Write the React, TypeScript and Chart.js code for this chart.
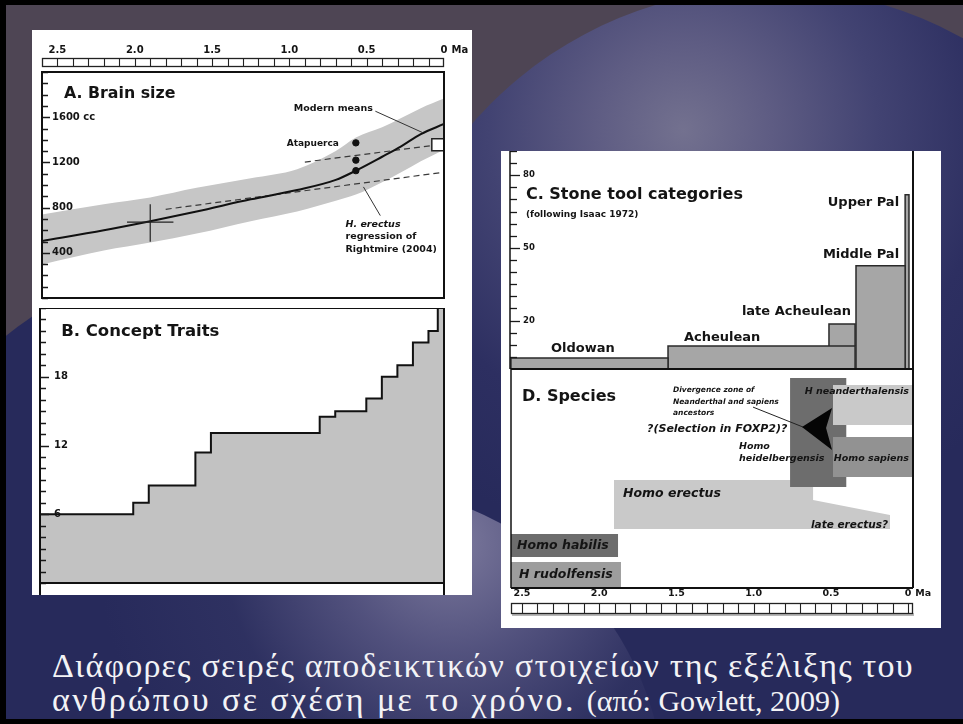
import React, { useEffect, useRef } from 'react';
import { Chart, registerables } from 'chart.js';

Chart.register(...registerables);

// ---------------- shared time axis ----------------
const maTickAges = [2.5, 2.0, 1.5, 1.0, 0.5, 0];
const maTickLabels = ['2.5', '2.0', '1.5', '1.0', '0.5', '0'];
const maUnit = 'Ma';
const scaleBarAges = [2.6, 2.5, 2.4, 2.3, 2.2, 2.1, 2.0, 1.9, 1.8, 1.7, 1.6, 1.5, 1.4, 1.3, 1.2, 1.1, 1.0, 0.9, 0.8, 0.7, 0.6, 0.5, 0.4, 0.3, 0.2, 0.1, 0];

// ---------------- A. Brain size ----------------
const brainAges = [2.6, 2.2, 1.9, 1.6, 1.25, 0.95, 0.7, 0.57, 0.4, 0.28, 0.15, 0];
const brainMean = [505, 600, 680, 765, 873, 955, 1045, 1127, 1250, 1340, 1450, 1540];
const brainUpper = [740, 830, 890, 975, 1060, 1140, 1300, 1420, 1510, 1590, 1680, 1765];
const brainLower = [297, 420, 491, 570, 680, 765, 860, 915, 1025, 1110, 1210, 1313];
const brainTickValues = [0, 100, 200, 300, 400, 500, 600, 700, 800, 900, 1000, 1100, 1200, 1300, 1400, 1500, 1600, 1700, 1800, 1900, 2000];
const brainLabelValues = [400, 800, 1200, 1600];
const brainLabelTexts = ['400', '800', '1200', '1600 cc'];
const erectusRegAges = [1.8, 0.02];
const erectusRegCc = [785, 1110];
const upperRegAges = [0.9, 0.04];
const upperRegCc = [1203, 1356];
const crossVAges = [1.9, 1.9];
const crossVCc = [497, 830];
const crossHAges = [2.05, 1.75];
const crossHCc = [672, 672];
const atapuercaAges = [0.57, 0.57, 0.57];
const atapuercaCc = [1373, 1220, 1127];
const modernAges = [0.04];
const modernCc = [1356];
const modernLeaderAges = [0.444, 0.142];
const modernLeaderCc = [1653, 1466];
const erectusLeaderAges = [0.521, 0.412];
const erectusLeaderCc = [983, 729];

// ---------------- B. Concept traits ----------------
const traitAges = [2.6, 2.0, 1.9, 1.6, 1.5, 0.8, 0.7, 0.5, 0.4, 0.3, 0.2, 0.1, 0.04, 0];
const traitCounts = [6, 7, 8.5, 11.4, 13.1, 14.5, 15, 16.1, 18, 19, 21, 22, 24, 24];
const traitTickValues = [0, 1, 2, 3, 4, 5, 6, 7, 8, 9, 10, 11, 12, 13, 14, 15, 16, 17, 18, 19, 20, 21, 22, 23, 24];
const traitLabelValues = [6, 12, 18];
const traitLabelTexts = ['6', '12', '18'];

// ---------------- C. Stone tool categories ----------------
const toolNames = ['Oldowan', 'Acheulean', 'late Acheulean', 'Middle Pal', 'Upper Pal'];
const toolStart = [2.571, 1.554, 0.512, 0.337, 0.019];
const toolEnd = [1.554, 0.343, 0.343, 0.019, -0.006];
const toolBase = [0, 0, 9.5, 0, 0];
const toolTop = [4.5, 9.5, 18.6, 42.6, 71.9];
const toolTickValues = [0, 5, 10, 15, 20, 25, 30, 35, 40, 45, 50, 55, 60, 65, 70, 75, 80, 85, 90];
const toolLabelValues = [20, 50, 80];
const toolLabelTexts = ['20', '50', '80'];

// ---------------- D. Species (age, lane) outlines ----------------
const erectusAges = [1.904, 1.904, 0.615, 0.615, 0.117, 0.117];
const erectusLanes = [26.9, 49.3, 49.3, 40.2, 33.3, 26.9];
const heidelAges = [0.764, 0.764, 0.4, 0.4];
const heidelLanes = [46.1, 95.9, 95.9, 46.1];
const neanderAges = [0.486, 0.486, -0.032, -0.032];
const neanderLanes = [74.4, 92.7, 92.7, 74.4];
const sapiensAges = [0.486, 0.486, -0.032, -0.032];
const sapiensLanes = [50.7, 68.9, 68.9, 50.7];
const divergenceAges = [0.687, 0.492, 0.531, 0.492];
const divergenceLanes = [73.5, 82.2, 73.1, 63.0];
const habilisAges = [2.571, 2.571, 1.878, 1.878];
const habilisLanes = [14.2, 24.7, 24.7, 14.2];
const rudolfAges = [2.571, 2.571, 1.859, 1.859];
const rudolfLanes = [0.5, 11.9, 11.9, 0.5];
const divergenceLeaderAges = [1.004, 0.68];
const divergenceLeaderLanes = [82.6, 73.5];

// ---------------- annotations (text anchored in data units) ----------------
type Ann = { text: string; age: number; value: number; align: CanvasTextAlign; style: string };

const annA: Ann[] = [
  { text: 'A. Brain size', age: 2.458, value: 1805, align: 'left', style: 'titleL' },
  { text: 'Modern means', age: 0.972, value: 1678, align: 'left', style: 'label' },
  { text: 'Atapuerca', age: 1.017, value: 1364, align: 'left', style: 'labelSmall' },
  { text: 'H. erectus', age: 0.637, value: 653, align: 'left', style: 'labelItalic' },
  { text: 'regression of', age: 0.637, value: 542, align: 'left', style: 'label' },
  { text: 'Rightmire (2004)', age: 0.637, value: 432, align: 'left', style: 'label' },
];
const annB: Ann[] = [
  { text: 'B. Concept Traits', age: 2.464, value: 21.9, align: 'left', style: 'titleB' },
];
const annC: Ann[] = [
  { text: 'C. Stone tool categories', age: 2.474, value: 71.9, align: 'left', style: 'titleR' },
  { text: '(following Isaac 1972)', age: 2.474, value: 63.6, align: 'left', style: 'small' },
  { text: toolNames[4], age: 0.058, value: 68.6, align: 'right', style: 'tool' },
  { text: toolNames[3], age: 0.058, value: 47.1, align: 'right', style: 'tool' },
  { text: toolNames[2], age: 0.369, value: 23.6, align: 'right', style: 'tool' },
  { text: toolNames[1], age: 1.451, value: 12.8, align: 'left', style: 'tool' },
  { text: toolNames[0], age: 2.312, value: 8.3, align: 'left', style: 'tool' },
];
const annD: Ann[] = [
  { text: 'D. Species', age: 2.5, value: 87.2, align: 'left', style: 'titleR' },
  { text: 'Divergence zone of', age: 1.522, value: 90.4, align: 'left', style: 'tiny' },
  { text: 'Neanderthal and sapiens', age: 1.522, value: 84.9, align: 'left', style: 'tiny' },
  { text: 'ancestors', age: 1.522, value: 79.9, align: 'left', style: 'tiny' },
  { text: '?(Selection in FOXP2)?', age: 1.69, value: 72.6, align: 'left', style: 'foxp2' },
  { text: 'Homo', age: 1.095, value: 64.8, align: 'left', style: 'species' },
  { text: 'heidelbergensis', age: 1.095, value: 58.9, align: 'left', style: 'species' },
  { text: 'H neanderthalensis', age: -0.006, value: 89.5, align: 'right', style: 'species' },
  { text: 'Homo sapiens', age: -0.006, value: 58.9, align: 'right', style: 'species' },
  { text: 'Homo erectus', age: 1.846, value: 42.9, align: 'left', style: 'speciesBig' },
  { text: 'late erectus?', age: 0.13, value: 28.8, align: 'right', style: 'lateErectus' },
  { text: 'Homo habilis', age: 2.532, value: 19.2, align: 'left', style: 'speciesBig' },
  { text: 'H rudolfensis', age: 2.519, value: 5.9, align: 'left', style: 'speciesBig' },
];

// ---------------- styles ----------------
const FF = '"DejaVu Sans", "Liberation Sans", sans-serif';
const FONTS: Record<string, string> = {
  titleL: `bold 15.8px ${FF}`,
  titleB: `bold 16.5px ${FF}`,
  titleR: `bold 16px ${FF}`,
  label: `bold 9.5px ${FF}`,
  labelSmall: `bold 9px ${FF}`,
  labelItalic: `italic bold 9.5px ${FF}`,
  small: `bold 9px ${FF}`,
  tool: `bold 13px ${FF}`,
  tiny: `italic bold 7.5px ${FF}`,
  foxp2: `italic bold 11px ${FF}`,
  species: `italic bold 9.5px ${FF}`,
  speciesBig: `italic bold 12.5px ${FF}`,
  lateErectus: `italic bold 10.5px ${FF}`,
  axisL: `bold 10px ${FF}`,
  axisR: `bold 9.5px ${FF}`,
};
const INK = '#141414';

const pts = (xs: number[], ys: number[]) => xs.map((x, i) => ({ x, y: ys[i] }));
const CLEAR = 'rgba(0,0,0,0)';

function drawAnnotations(chart: any, anns: Ann[]) {
  const { ctx, scales } = chart;
  ctx.save();
  ctx.fillStyle = INK;
  ctx.textBaseline = 'middle';
  for (const a of anns) {
    ctx.font = FONTS[a.style];
    ctx.textAlign = a.align;
    ctx.fillText(a.text, scales.x.getPixelForValue(a.age), scales.y.getPixelForValue(a.value));
  }
  ctx.restore();
}

function drawTickMarks(chart: any, majors: number[], majorLen: number, minorLen: number, width: number) {
  const { ctx, chartArea: ca, scales } = chart;
  ctx.save();
  ctx.strokeStyle = '#1a1a1a';
  ctx.lineWidth = width;
  for (const t of scales.y.ticks) {
    const py = Math.round(scales.y.getPixelForValue(t.value)) + 0.5;
    const len = majors.includes(t.value) ? majorLen : minorLen;
    ctx.beginPath();
    ctx.moveTo(ca.left, py);
    ctx.lineTo(ca.left + len, py);
    ctx.stroke();
  }
  ctx.restore();
}

function line(ctx: CanvasRenderingContext2D, x1: number, y1: number, x2: number, y2: number, w: number, color = '#111') {
  ctx.save();
  ctx.strokeStyle = color;
  ctx.lineWidth = w;
  ctx.beginPath();
  ctx.moveTo(x1, y1);
  ctx.lineTo(x2, y2);
  ctx.stroke();
  ctx.restore();
}

function drawScaleBar(chart: any, top: number, height: number, shadow: boolean) {
  const { ctx, chartArea: ca, scales } = chart;
  const left = ca.left;
  const right = ca.right;
  ctx.save();
  if (shadow) {
    ctx.fillStyle = '#b8b8b8';
    ctx.fillRect(left + 1, top + height, right - left, 3);
  }
  ctx.fillStyle = '#ffffff';
  ctx.fillRect(left, top, right - left, height);
  ctx.strokeStyle = '#222';
  ctx.lineWidth = 1.3;
  ctx.strokeRect(left + 0.5, top + 0.5, right - left - 1, height);
  ctx.lineWidth = 1.1;
  for (const a of scaleBarAges) {
    const px = Math.round(scales.x.getPixelForValue(a)) + 0.5;
    if (px <= left + 1.5 || px >= right - 1.5) continue;
    ctx.beginPath();
    ctx.moveTo(px, top);
    ctx.lineTo(px, top + height);
    ctx.stroke();
  }
  ctx.restore();
}

function drawAgeLabels(chart: any, y: number, font: string) {
  const { ctx, scales } = chart;
  ctx.save();
  ctx.font = font;
  ctx.fillStyle = INK;
  ctx.textBaseline = 'middle';
  maTickAges.forEach((a, i) => {
    const px = scales.x.getPixelForValue(a);
    ctx.textAlign = 'center';
    ctx.fillText(maTickLabels[i], px, y);
    if (a === 0) {
      const w = ctx.measureText(maTickLabels[i]).width;
      ctx.textAlign = 'left';
      ctx.fillText(maUnit, px + w / 2 + 4, y);
    }
  });
  ctx.restore();
}

function mirrorY(min: number, max: number, tickValues: number[], labelValues: number[], labelTexts: string[], padding: number, size: number) {
  return {
    type: 'linear',
    min,
    max,
    afterBuildTicks: (s: any) => {
      s.ticks = tickValues.map((v) => ({ value: v }));
    },
    afterFit: (s: any) => {
      s.width = 0;
      s.paddingTop = 0;
      s.paddingBottom = 0;
      s.paddingLeft = 0;
      s.paddingRight = 0;
    },
    grid: { display: false, drawTicks: false },
    border: { display: false },
    ticks: {
      z: 2,
      mirror: true,
      padding,
      autoSkip: false,
      color: INK,
      font: { family: FF, weight: 'bold', size },
      callback: (v: number) => {
        const i = labelValues.indexOf(v);
        return i >= 0 ? labelTexts[i] : '';
      },
    },
  };
}

function baseOptions(padding: any, xMin: number, xMax: number, y: any) {
  return {
    animation: false,
    responsive: false,
    events: [],
    layout: { padding },
    plugins: { legend: { display: false }, tooltip: { enabled: false } },
    elements: { point: { radius: 0 }, line: { tension: 0 } },
    scales: {
      x: { type: 'linear', reverse: true, min: xMin, max: xMax, display: false },
      y,
    },
  };
}

// ---------------- chart builders ----------------
function buildA(canvas: HTMLCanvasElement) {
  const dashed = { borderColor: '#3a3a3a', borderWidth: 1.2, borderDash: [6, 4], fill: false, pointRadius: 0 };
  const thin = { borderColor: '#333', borderWidth: 1, fill: false, pointRadius: 0 };
  return new Chart(canvas, {
    type: 'line',
    data: {
      datasets: [
        { data: pts(modernAges, modernCc), showLine: false, pointRadius: 8.5, pointStyle: 'rect', pointBackgroundColor: '#fff', pointBorderColor: '#222', pointBorderWidth: 1.5 },
        { data: pts(atapuercaAges, atapuercaCc), showLine: false, pointRadius: 3.2, pointBackgroundColor: '#111', pointBorderColor: '#111' },
        { data: pts(modernLeaderAges, modernLeaderCc), ...thin },
        { data: pts(erectusLeaderAges, erectusLeaderCc), ...thin },
        { data: pts(crossVAges, crossVCc), borderColor: '#222', borderWidth: 1.2, pointRadius: 0, fill: false },
        { data: pts(crossHAges, crossHCc), borderColor: '#222', borderWidth: 1.2, pointRadius: 0, fill: false },
        { data: pts(brainAges, brainMean), borderColor: '#111', borderWidth: 2, pointRadius: 0, fill: false, cubicInterpolationMode: 'monotone' },
        { data: pts(upperRegAges, upperRegCc), ...dashed },
        { data: pts(erectusRegAges, erectusRegCc), ...dashed },
        { data: pts(brainAges, brainUpper), borderColor: CLEAR, borderWidth: 0, pointRadius: 0, fill: '+1', backgroundColor: '#c6c6c6', cubicInterpolationMode: 'monotone' },
        { data: pts(brainAges, brainLower), borderColor: CLEAR, borderWidth: 0, pointRadius: 0, fill: false, cubicInterpolationMode: 'monotone' },
      ],
    },
    options: baseOptions({ left: 8, right: 28, top: 42, bottom: 0 }, 0, 2.6, mirrorY(0, 2000, brainTickValues, brainLabelValues, brainLabelTexts, 10, 10)) as any,
    plugins: [
      {
        id: 'panelA',
        afterDraw(chart: any) {
          const { ctx, chartArea: ca } = chart;
          drawTickMarks(chart, brainLabelValues, 8, 6, 1.5);
          ctx.save();
          ctx.strokeStyle = '#111';
          ctx.lineWidth = 2;
          ctx.strokeRect(ca.left, ca.top, ca.right - ca.left, ca.bottom - ca.top);
          ctx.restore();
          drawScaleBar(chart, ca.top - 14, 8, false);
          drawAgeLabels(chart, ca.top - 22, FONTS.axisL);
          drawAnnotations(chart, annA);
        },
      },
    ],
  });
}

function buildB(canvas: HTMLCanvasElement) {
  return new Chart(canvas, {
    type: 'line',
    data: {
      datasets: [
        { data: pts(traitAges, traitCounts), stepped: 'before', borderColor: '#111', borderWidth: 2, pointRadius: 0, fill: 'origin', backgroundColor: '#c2c2c2' },
      ],
    },
    options: baseOptions({ left: 8, right: 28, top: 0, bottom: 12 }, 0, 2.6, mirrorY(0, 24, traitTickValues, traitLabelValues, traitLabelTexts, 14, 10)) as any,
    plugins: [
      {
        id: 'panelB',
        afterDraw(chart: any) {
          const { ctx, chartArea: ca, height } = chart;
          drawTickMarks(chart, traitLabelValues, 9, 6, 1.5);
          ctx.save();
          ctx.strokeStyle = '#111';
          ctx.lineWidth = 2;
          ctx.strokeRect(ca.left, ca.top, ca.right - ca.left, ca.bottom - ca.top);
          ctx.restore();
          line(ctx, ca.left, ca.bottom, ca.left, height, 2);
          line(ctx, ca.right, ca.bottom, ca.right, height, 2);
          drawAnnotations(chart, annB);
        },
      },
    ],
  });
}

function buildC(canvas: HTMLCanvasElement) {
  const bars = toolNames.map((_, i) => ({
    data: pts([toolStart[i], toolStart[i], toolEnd[i], toolEnd[i]], [toolBase[i], toolTop[i], toolTop[i], toolBase[i]]),
    borderColor: '#2a2a2a',
    borderWidth: 1.5,
    pointRadius: 0,
    fill: 'shape',
    backgroundColor: '#a6a6a6',
  }));
  return new Chart(canvas, {
    type: 'line',
    data: { datasets: bars },
    options: baseOptions({ left: 9, right: 28, top: 0, bottom: 0 }, -0.032, 2.577, mirrorY(0, 90, toolTickValues, toolLabelValues, toolLabelTexts, 13, 8.5)) as any,
    plugins: [
      {
        id: 'panelC',
        afterDraw(chart: any) {
          const { ctx, chartArea: ca } = chart;
          drawTickMarks(chart, toolLabelValues, 10, 7, 1.3);
          line(ctx, ca.left, ca.top, ca.left, ca.bottom, 1.5);
          line(ctx, ca.right, ca.top, ca.right, ca.bottom, 2);
          line(ctx, ca.left, ca.bottom, ca.right, ca.bottom, 2);
          drawAnnotations(chart, annC);
        },
      },
    ],
  });
}

function buildD(canvas: HTMLCanvasElement) {
  const shape = (ages: number[], lanes: number[], color: string) => ({
    data: pts(ages, lanes),
    borderColor: CLEAR,
    borderWidth: 0,
    pointRadius: 0,
    fill: 'shape',
    backgroundColor: color,
  });
  // listed bottom-most first, reversed so that later ones are painted on top
  const layers = [
    shape(erectusAges, erectusLanes, '#c9c9c9'),
    shape(heidelAges, heidelLanes, '#6d6d6d'),
    shape(neanderAges, neanderLanes, '#c9c9c9'),
    shape(sapiensAges, sapiensLanes, '#929292'),
    shape(divergenceAges, divergenceLanes, '#050505'),
    shape(habilisAges, habilisLanes, '#6d6d6d'),
    shape(rudolfAges, rudolfLanes, '#9d9d9d'),
    { data: pts(divergenceLeaderAges, divergenceLeaderLanes), borderColor: '#222', borderWidth: 1, pointRadius: 0, fill: false },
  ];
  return new Chart(canvas, {
    type: 'line',
    data: { datasets: layers.reverse() as any },
    options: baseOptions({ left: 10, right: 28, top: 0, bottom: 40 }, -0.032, 2.571, { type: 'linear', min: 0, max: 100, display: false }) as any,
    plugins: [
      {
        id: 'panelD',
        afterDraw(chart: any) {
          const { ctx, chartArea: ca } = chart;
          line(ctx, ca.left, ca.top, ca.left, ca.bottom, 1.5);
          line(ctx, ca.right, ca.top, ca.right, ca.bottom, 2);
          line(ctx, ca.left, ca.bottom, ca.right, ca.bottom, 2);
          line(ctx, ca.left, ca.top, ca.right, ca.top, 2);
          drawAgeLabels(chart, ca.bottom + 6, FONTS.axisR);
          drawScaleBar(chart, ca.bottom + 15, 10, true);
          drawAnnotations(chart, annD);
        },
      },
    ],
  });
}

function ChartCanvas({ left, top, width, height, build }: { left: number; top: number; width: number; height: number; build: (c: HTMLCanvasElement) => Chart }) {
  const ref = useRef<HTMLCanvasElement>(null);
  useEffect(() => {
    const chart = build(ref.current as HTMLCanvasElement);
    return () => chart.destroy();
  }, []);
  return <canvas ref={ref} width={width} height={height} style={{ position: 'absolute', left, top, width, height }} />;
}

const SERIF = '"Liberation Serif", "DejaVu Serif", serif';

export default function App() {
  return (
    <div style={{ position: 'fixed', left: 0, top: 0, width: 963, height: 724, overflow: 'hidden', background: '#4e4554' }}>
      <div style={{ position: 'absolute', left: -140, top: 250, width: 780, height: 780, borderRadius: '50%', background: '#272a5b' }} />
      <div
        style={{
          position: 'absolute', left: 375, top: -12, width: 790, height: 790, borderRadius: '50%',
          background: 'radial-gradient(circle at 39% 18%, #73718f 0%, #5e5c83 11%, #424372 24%, #2d2f61 38%, #272a5b 52%)',
        }}
      />
      <div
        style={{
          position: 'absolute', left: 35, top: 485, width: 630, height: 630, borderRadius: '50%',
          background: 'radial-gradient(circle at 66% 9%, rgba(128,125,160,0.95) 0%, rgba(100,98,140,0.7) 16%, rgba(60,62,108,0.35) 32%, rgba(39,42,91,0) 50%)',
        }}
      />
      <div style={{ position: 'absolute', left: 0, top: 0, width: 963, height: 5, background: '#000' }} />
      <div style={{ position: 'absolute', left: 0, top: 0, width: 6, height: 724, background: '#000' }} />
      <div style={{ position: 'absolute', left: 0, top: 719, width: 963, height: 5, background: '#000' }} />

      <div style={{ position: 'absolute', left: 32, top: 30, width: 440, height: 565, background: '#fff' }} />
      <div style={{ position: 'absolute', left: 501, top: 151, width: 440, height: 477, background: '#fff' }} />

      <ChartCanvas left={32} top={30} width={440} height={278} build={buildA} />
      <ChartCanvas left={32} top={308} width={440} height={287} build={buildB} />
      <ChartCanvas left={501} top={151} width={440} height={218} build={buildC} />
      <ChartCanvas left={501} top={369} width={440} height={259} build={buildD} />

      <div
        style={{
          position: 'absolute', left: 52, top: 649, color: '#f3f3f6', fontFamily: SERIF,
          fontSize: 34, lineHeight: '34px', whiteSpace: 'nowrap',
        }}
      >
        <div style={{ letterSpacing: '1.2px' }}>Διάφορες σειρές αποδεικτικών στοιχείων της εξέλιξης του</div>
        <div>
          <span style={{ letterSpacing: '2.4px' }}>ανθρώπου σε σχέση με το χρόνο. </span>
          <span style={{ fontSize: 30 }}>(από: Gowlett, 2009)</span>
        </div>
      </div>
    </div>
  );
}
